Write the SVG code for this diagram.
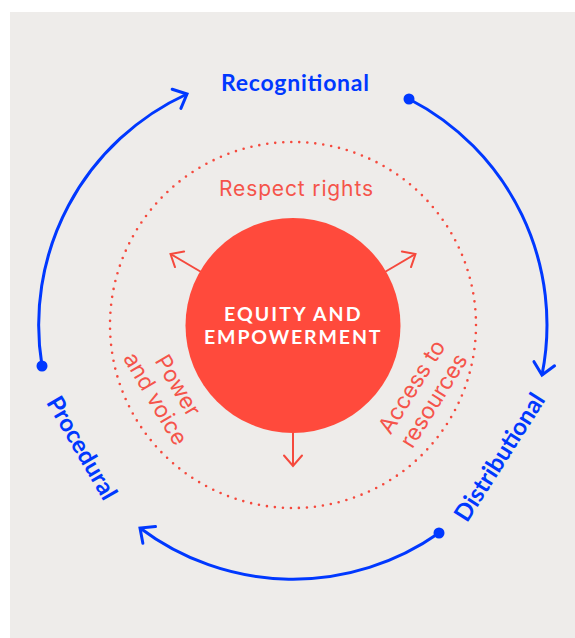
<svg xmlns="http://www.w3.org/2000/svg" width="575" height="638" viewBox="0 0 575 638">
  <style>
    .bg { fill: #EEECEA; }
    .cycle { fill: none; stroke: #0038FF; stroke-width: 3; marker-end: url(#blueHead); }
    .cycleDot { fill: #0038FF; }
    .spoke { fill: none; stroke: #F5493D; stroke-width: 2; marker-end: url(#redHead); }
    .ring { fill: none; stroke: #F5493D; stroke-width: 2.6; stroke-linecap: round; stroke-dasharray: 0 8.04; }
    .core { fill: #FF4A3C; }
    .coreText { font-family: Lato, "Liberation Sans", sans-serif; font-weight: 700; font-size: 19.5px; fill: #FFFFFF; text-anchor: middle; }
    .blueLabel { font-family: Lato, "Liberation Sans", sans-serif; font-weight: 700; font-size: 23px; fill: #0038FF; text-anchor: middle; }
    .blueSide { font-size: 24px; }
    .redLabel { font-family: Inter, "Liberation Sans", sans-serif; font-weight: 400; font-size: 21px; fill: #F5544A; text-anchor: middle; }
    .redSide { font-size: 22.5px; }
  </style>
  <defs>
    <marker id="blueHead" markerUnits="userSpaceOnUse" orient="auto" refX="0" refY="0" markerWidth="40" markerHeight="40" overflow="visible">
      <path d="M -11.5 -10.5 L 0 0 L -11.5 10.5" fill="none" stroke="#0038FF" stroke-width="3" stroke-linejoin="miter" stroke-linecap="round"/>
    </marker>
    <marker id="redHead" markerUnits="userSpaceOnUse" orient="auto" refX="0" refY="0" markerWidth="40" markerHeight="40" overflow="visible">
      <path d="M -10.5 -9 L 0 0 L -10.5 9" fill="none" stroke="#F5493D" stroke-width="2" stroke-linejoin="miter" stroke-linecap="round"/>
    </marker>
  </defs>

  <rect class="bg" x="10" y="12" width="565" height="626"/>

  <g id="connectors">
    <path class="cycle" d="M 409 99 A 254 254 0 0 1 542 375"/>
    <path class="cycle" d="M 439 533 A 254 254 0 0 1 140 528"/>
    <path class="cycle" d="M 42 366 A 254 254 0 0 1 187 94"/>
    <circle class="cycleDot" cx="409" cy="99" r="5.5"/>
    <circle class="cycleDot" cx="439" cy="533" r="5.5"/>
    <circle class="cycleDot" cx="42" cy="366" r="5.5"/>
    <line class="spoke" x1="202" y1="272.5" x2="170.5" y2="254"/>
    <line class="spoke" x1="384" y1="272.5" x2="415.5" y2="254"/>
    <line class="spoke" x1="293" y1="430" x2="293" y2="466"/>
  </g>

  <g id="ring">
    <circle class="ring" cx="293" cy="325" r="183"/>
  </g>

  <g id="equity-empowerment">
    <circle class="core" cx="293" cy="325.5" r="107.5"/>
    <text class="coreText" x="293" y="321" textLength="138" letter-spacing="1.5">EQUITY AND</text>
    <text class="coreText" x="293" y="344" textLength="178" letter-spacing="1.5">EMPOWERMENT</text>
  </g>

  <g id="respect-rights">
    <text class="redLabel" x="296" y="196" textLength="154">Respect rights</text>
  </g>

  <g id="power-and-voice" transform="translate(167 392) rotate(59.5)">
    <text class="redLabel redSide"><tspan x="0" y="-5">Power</tspan><tspan x="0" y="21">and voice</tspan></text>
  </g>

  <g id="access-to-resources" transform="translate(422.5 393.5) rotate(-58)">
    <text class="redLabel redSide"><tspan x="0" y="-5">Access to</tspan><tspan x="0" y="21">resources</tspan></text>
  </g>

  <g id="recognitional">
    <text class="blueLabel" x="295" y="91" textLength="148">Recognitional</text>
  </g>

  <g id="distributional" transform="translate(499.4 457) rotate(-57.4)">
    <text class="blueLabel blueSide" x="0" y="8.5">Distributional</text>
  </g>

  <g id="procedural" transform="translate(82.1 447.7) rotate(59.8)">
    <text class="blueLabel blueSide" x="0" y="8.5">Procedural</text>
  </g>
</svg>
